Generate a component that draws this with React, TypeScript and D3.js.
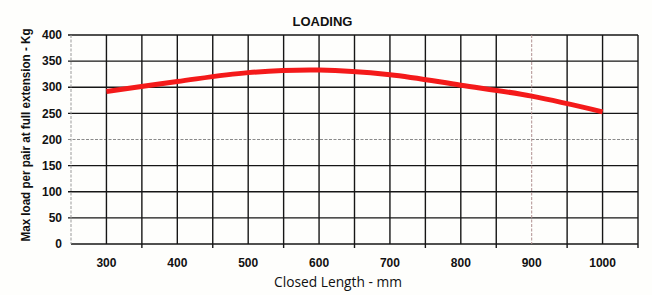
import React from "react";
import * as d3 from "d3";

// Data
const closedLengths = [300, 400, 500, 600, 700, 800, 900, 1000];
const maxLoads = [292, 311, 328, 333, 324, 304, 283, 253];
const xTickLabels = ["300", "400", "500", "600", "700", "800", "900", "1000"];
const yTicks = [0, 50, 100, 150, 200, 250, 300, 350, 400];
const xGrid = [250, 300, 350, 400, 450, 500, 550, 600, 650, 700, 750, 800, 850, 900, 950, 1000, 1050];
const xBoundaryTicks = [350, 450, 550, 650, 750, 850, 950, 1050];
const title = "LOADING";
const xTitle = "Closed Length - mm";
const yTitle = "Max load per pair at full extension - Kg";

const W = 652;
const H = 295;

export default function App() {
  const x = d3.scaleLinear().domain([250, 1050]).range([71, 638]);
  const y = d3.scaleLinear().domain([0, 400]).range([244, 35]);
  const line = d3
    .line<number>()
    .x((_, i) => x(closedLengths[i]))
    .y((d) => y(d))
    .curve(d3.curveCatmullRom.alpha(0.5));

  const gridColor = "#161616";
  return (
    <div style={{ position: "fixed", left: 0, top: 0 }}>
      <svg width={W} height={H} style={{ display: "block", background: "#fefefc" }}>
        {/* horizontal grid */}
        {yTicks.map((t) => {
          const faint = t === 200;
          return (
            <line
              key={"h" + t}
              x1={x(250) - (t === 0 ? 0 : 3)}
              x2={x(1050)}
              y1={y(t)}
              y2={y(t)}
              stroke={faint ? "#8a8a8a" : gridColor}
              strokeWidth={faint ? 1 : 1.4}
              strokeDasharray={faint ? "3,1.5" : undefined}
            />
          );
        })}
        {/* vertical grid */}
        {xGrid.map((v) => {
          const left = v === 250;
          const faint = v === 900;
          return (
            <line
              key={"v" + v}
              x1={x(v)}
              x2={x(v)}
              y1={y(400)}
              y2={y(0)}
              stroke={left ? "#9a9a9a" : faint ? "#b09090" : gridColor}
              strokeWidth={left || faint ? 1 : 1.4}
              strokeDasharray={left || faint ? "3,1.5" : undefined}
            />
          );
        })}
        {/* bottom tick marks at category boundaries */}
        {xBoundaryTicks.map((v) => (
          <line
            key={"t" + v}
            x1={x(v)}
            x2={x(v)}
            y1={y(0)}
            y2={y(0) + 4}
            stroke={gridColor}
            strokeWidth={1.4}
          />
        ))}
        {/* y tick labels */}
        {yTicks.map((t) => (
          <text
            key={"yl" + t}
            x={62}
            y={y(t)}
            dy="0.35em"
            textAnchor="end"
            fontFamily="'Liberation Sans', Arial, sans-serif"
            fontWeight="bold"
            fontSize={12}
            fill="#111"
          >
            {t}
          </text>
        ))}
        {/* x tick labels */}
        {closedLengths.map((v, i) => (
          <text
            key={"xl" + v}
            x={x(v)}
            y={266.5}
            textAnchor="middle"
            fontFamily="'Liberation Sans', Arial, sans-serif"
            fontWeight="bold"
            fontSize={12}
            fill="#111"
          >
            {xTickLabels[i]}
          </text>
        ))}
        {/* data line */}
        <path
          d={line(maxLoads) || ""}
          fill="none"
          stroke="#f41a1a"
          strokeWidth={5}
          strokeLinecap="butt"
          strokeLinejoin="round"
        />
        {/* title */}
        <text
          x={322.5}
          y={25.5}
          textAnchor="middle"
          fontFamily="'Liberation Sans', Arial, sans-serif"
          fontWeight="bold"
          fontSize={13}
          fill="#111"
        >
          {title}
        </text>
        {/* x title */}
        <text
          x={338}
          y={286.5}
          textAnchor="middle"
          fontFamily="'Open Sans', sans-serif"
          fontSize={14.5}
          textLength={128}
          lengthAdjust="spacingAndGlyphs"
          fill="#111"
        >
          {xTitle}
        </text>
        {/* y title */}
        <text
          transform={`translate(29.5,135) rotate(-90)`}
          textAnchor="middle"
          fontFamily="'Liberation Sans', Arial, sans-serif"
          fontWeight="bold"
          fontSize={12.5}
          textLength={213}
          lengthAdjust="spacingAndGlyphs"
          fill="#111"
        >
          {yTitle}
        </text>
      </svg>
    </div>
  );
}
